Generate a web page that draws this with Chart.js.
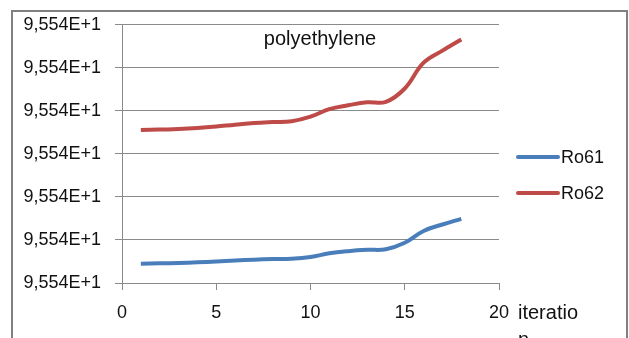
<!DOCTYPE html>
<html>
<head>
<meta charset="utf-8">
<script src="https://cdn.jsdelivr.net/npm/chart.js@4.4.1/dist/chart.umd.min.js"></script>
<style>
  html, body { margin: 0; padding: 0; background: #ffffff; }
  #wrap { width: 629px; height: 338px; position: relative; }
</style>
</head>
<body>
<div id="wrap"><canvas id="chart" width="629" height="338"></canvas></div>
<script>
// Iteration numbers along the x axis
const iterations = [1, 2, 3, 4, 5, 6, 7, 8, 9, 10, 11, 12, 13, 14, 15, 16, 17, 18];

// Series values, in axis units (one unit per gridline step)
const ro61 = [0.45, 0.457, 0.466, 0.48, 0.50, 0.524, 0.542, 0.556, 0.565, 0.605, 0.69, 0.74, 0.77, 0.785, 0.935, 1.21, 1.36, 1.49];
const ro62 = [3.554, 3.566, 3.577, 3.60, 3.635, 3.68, 3.716, 3.74, 3.76, 3.866, 4.04, 4.13, 4.20, 4.21, 4.52, 5.12, 5.40, 5.66];

// Tick labels shown on the value axis (bottom to top)
const yTickLabels = ["9,554E+1", "9,554E+1", "9,554E+1", "9,554E+1", "9,554E+1", "9,554E+1", "9,554E+1"];
const xTicks = [0, 5, 10, 15, 20];

const seriesNames = ["Ro61", "Ro62"];
const chartTitle = "polyethylene";
const xAxisTitle = ["iteratio", "n"];

const FONT = "'Liberation Sans', Arial, sans-serif";
const TEXT = "#111111";
const GRID = "#8a8a8a";

// Frame, title, axis caption and legend drawn on top of the chart
const decorations = {
  id: "decorations",
  afterDraw(chart) {
    const ctx = chart.ctx;
    const area = chart.chartArea;
    ctx.save();
    // outer frame
    ctx.strokeStyle = "#808080";
    ctx.lineWidth = 2;
    ctx.beginPath();
    ctx.moveTo(12, 345);
    ctx.lineTo(12, 11);
    ctx.lineTo(627, 11);
    ctx.lineTo(627, 345);
    ctx.stroke();

    ctx.fillStyle = TEXT;
    ctx.textBaseline = "middle";
    // title inside the plot
    ctx.font = "20px " + FONT;
    ctx.textAlign = "center";
    ctx.fillText(chartTitle, 320, 39);

    // x-axis caption, wrapped
    ctx.font = "20px " + FONT;
    ctx.textAlign = "left";
    ctx.fillText(xAxisTitle[0], area.right + 19, 313);
    ctx.fillText(xAxisTitle[1], area.right + 19, 340);

    // legend
    const rows = [157, 193];
    chart.data.datasets.forEach((ds, i) => {
      ctx.strokeStyle = ds.borderColor;
      ctx.lineWidth = 4;
      ctx.lineCap = "round";
      ctx.beginPath();
      ctx.moveTo(518, rows[i]);
      ctx.lineTo(558, rows[i]);
      ctx.stroke();
      ctx.fillStyle = TEXT;
      ctx.font = "18px " + FONT;
      ctx.textAlign = "left";
      ctx.fillText(ds.label, 561, rows[i] + 1);
    });
    ctx.restore();
  }
};

new Chart(document.getElementById("chart"), {
  type: "line",
  data: {
    datasets: [
      {
        label: seriesNames[0],
        data: iterations.map((x, i) => ({ x: x, y: ro61[i] })),
        borderColor: "#4a7ebb",
        borderWidth: 4,
        pointRadius: 0,
        tension: 0.4,
        fill: false
      },
      {
        label: seriesNames[1],
        data: iterations.map((x, i) => ({ x: x, y: ro62[i] })),
        borderColor: "#be4b48",
        borderWidth: 4,
        pointRadius: 0,
        tension: 0.4,
        fill: false
      }
    ]
  },
  options: {
    responsive: false,
    animation: false,
    devicePixelRatio: 1,
    layout: { padding: { top: 23, right: 130, bottom: 0, left: 0 } },
    plugins: {
      legend: { display: false },
      tooltip: { enabled: false }
    },
    scales: {
      x: {
        type: "linear",
        min: 0,
        max: 20,
        afterBuildTicks(scale) { scale.ticks = xTicks.map(v => ({ value: v })); },
        afterFit(scale) { scale.height = 55; },
        grid: { drawOnChartArea: false, drawTicks: true, tickLength: 7, color: GRID },
        border: { color: GRID, width: 1 },
        ticks: { color: TEXT, font: { family: FONT, size: 18 }, padding: 12, maxRotation: 0 }
      },
      y: {
        type: "linear",
        min: 0,
        max: 6,
        afterBuildTicks(scale) { scale.ticks = yTickLabels.map((t, i) => ({ value: i })); },
        afterFit(scale) { scale.width = 122; },
        grid: { color: GRID, tickLength: 7, drawTicks: true },
        border: { color: GRID, width: 1 },
        ticks: {
          color: TEXT,
          font: { family: FONT, size: 18 },
          padding: 14,
          callback: (v, i) => yTickLabels[i]
        }
      }
    }
  },
  plugins: [decorations]
});
</script>
</body>
</html>
